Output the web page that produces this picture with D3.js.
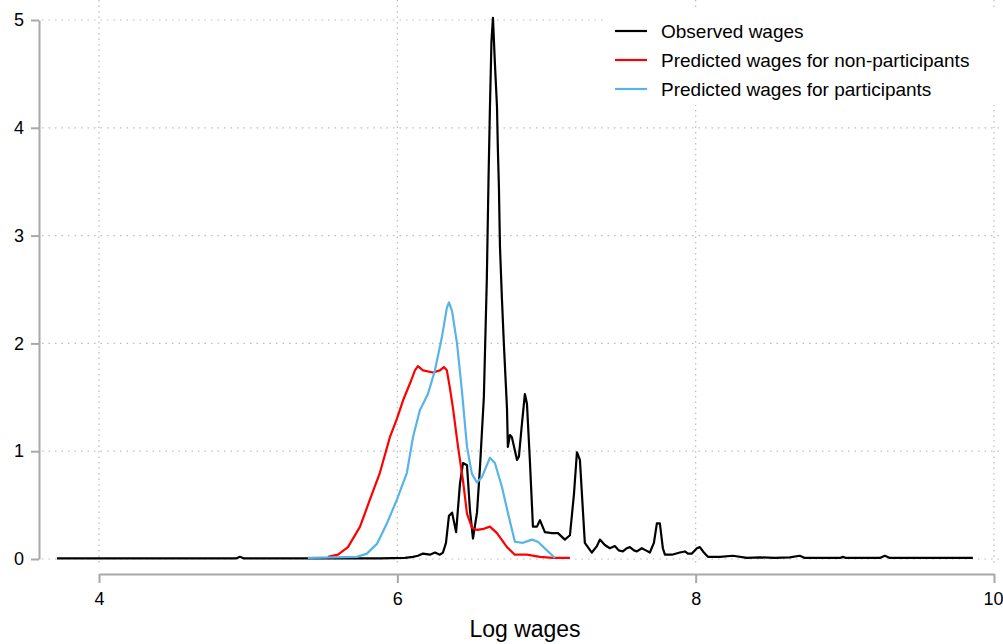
<!DOCTYPE html>
<html lang="en">
<head>
    <meta charset="UTF-8">
    <title>Log wage densities</title>
    <script src="https://d3js.org/d3.v7.min.js"></script>
    <style>
        body { margin: 0; background: #fff; }
        svg { font-family: "Liberation Sans", Arial, sans-serif; }
    </style>
</head>
<body>
    <script>
        const width = 1003;
        const height = 644;

        // kernel density estimates: [log wage, density]
        const observed = [
            [3.718, 0.005], [4.918, 0.005], [4.945, 0.02], [4.972, 0.005], [5.883, 0.005],
            [6.051, 0.01], [6.105, 0.02], [6.138, 0.03], [6.172, 0.05], [6.218, 0.04],
            [6.252, 0.06], [6.285, 0.04], [6.306, 0.06], [6.326, 0.15], [6.346, 0.40],
            [6.367, 0.43], [6.394, 0.25], [6.42, 0.70], [6.44, 0.89], [6.467, 0.87],
            [6.487, 0.45], [6.507, 0.19], [6.534, 0.43], [6.554, 0.85], [6.58, 1.5],
            [6.60, 2.6], [6.611, 3.5], [6.621, 4.2], [6.631, 4.8], [6.641, 5.02],
            [6.654, 4.6], [6.668, 4.2], [6.674, 3.8], [6.681, 3.45], [6.688, 2.9],
            [6.701, 2.42], [6.714, 2.0], [6.735, 1.4], [6.741, 1.04], [6.755, 1.15],
            [6.768, 1.13], [6.802, 0.92], [6.815, 0.95], [6.835, 1.25], [6.855, 1.53],
            [6.869, 1.44], [6.889, 0.9], [6.909, 0.30], [6.936, 0.30], [6.956, 0.36],
            [6.989, 0.25], [7.036, 0.24], [7.077, 0.24], [7.123, 0.18], [7.157, 0.22],
            [7.184, 0.6], [7.204, 0.99], [7.224, 0.92], [7.244, 0.45], [7.257, 0.15],
            [7.304, 0.06], [7.338, 0.12], [7.358, 0.18], [7.391, 0.13], [7.425, 0.10],
            [7.458, 0.12], [7.485, 0.08], [7.512, 0.07], [7.539, 0.10], [7.559, 0.11],
            [7.586, 0.08], [7.606, 0.07], [7.639, 0.10], [7.666, 0.08], [7.693, 0.06],
            [7.72, 0.15], [7.74, 0.33], [7.76, 0.33], [7.78, 0.10], [7.794, 0.04],
            [7.841, 0.04], [7.894, 0.06], [7.928, 0.07], [7.948, 0.05], [7.975, 0.05],
            [8.008, 0.10], [8.028, 0.11], [8.055, 0.06], [8.082, 0.02], [8.163, 0.02],
            [8.25, 0.03], [8.343, 0.01], [8.43, 0.015], [8.531, 0.01], [8.631, 0.015],
            [8.698, 0.03], [8.732, 0.01], [8.967, 0.01], [8.987, 0.02], [9.007, 0.01],
            [9.235, 0.01], [9.268, 0.03], [9.302, 0.01], [9.858, 0.01]
        ];

        const nonParticipants = [
            [5.535, 0.02], [5.602, 0.04], [5.669, 0.11], [5.75, 0.30], [5.816, 0.55],
            [5.883, 0.80], [5.95, 1.13], [5.997, 1.30], [6.038, 1.47], [6.085, 1.63],
            [6.118, 1.75], [6.138, 1.79], [6.172, 1.75], [6.239, 1.73], [6.285, 1.75],
            [6.312, 1.78], [6.332, 1.75], [6.352, 1.59], [6.373, 1.40], [6.407, 1.04],
            [6.44, 0.73], [6.467, 0.42], [6.50, 0.29], [6.534, 0.27], [6.58, 0.28],
            [6.621, 0.30], [6.668, 0.24], [6.735, 0.11], [6.788, 0.04], [6.869, 0.04],
            [6.956, 0.02], [7.043, 0.01], [7.157, 0.01]
        ];

        const participants = [
            [5.40, 0.01], [5.729, 0.02], [5.796, 0.05], [5.863, 0.14], [5.93, 0.33],
            [5.997, 0.55], [6.064, 0.80], [6.105, 1.13], [6.151, 1.38], [6.205, 1.53],
            [6.252, 1.75], [6.299, 2.06], [6.332, 2.33], [6.346, 2.38], [6.367, 2.30],
            [6.40, 2.00], [6.433, 1.56], [6.467, 1.04], [6.50, 0.79], [6.534, 0.71],
            [6.567, 0.76], [6.621, 0.94], [6.654, 0.89], [6.701, 0.67], [6.741, 0.43],
            [6.788, 0.16], [6.842, 0.15], [6.902, 0.18], [6.942, 0.16], [7.003, 0.08],
            [7.056, 0.01]
        ];

        const xTicks = [4, 6, 8, 10];
        const yTicks = [0, 1, 2, 3, 4, 5];
        const legendLabels = ["Observed wages", "Predicted wages for non-participants", "Predicted wages for participants"];
        const colors = ["#000000", "#ff0000", "#56b4e9"];

        const x = d3.scaleLinear().domain([4, 10]).range([99, 994]);
        const y = d3.scaleLinear().domain([0, 5]).range([559, 20]);

        const svg = d3.select("body").append("svg")
            .attr("width", width)
            .attr("height", height);

        // dotted grid
        svg.append("g")
            .selectAll("line")
            .data(yTicks)
            .join("line")
            .attr("x1", 42).attr("x2", 1000)
            .attr("y1", d => y(d)).attr("y2", d => y(d))
            .attr("stroke", "#bdbdbd")
            .attr("stroke-width", 1.2)
            .attr("stroke-dasharray", "1.5,5");

        svg.append("g")
            .selectAll("line")
            .data(xTicks)
            .join("line")
            .attr("x1", d => x(d)).attr("x2", d => x(d))
            .attr("y1", 0).attr("y2", 565)
            .attr("stroke", "#bdbdbd")
            .attr("stroke-width", 1.2)
            .attr("stroke-dasharray", "1.5,4");

        // axes
        const yAxis = svg.append("g")
            .attr("transform", "translate(39,0)")
            .call(d3.axisLeft(y).tickValues(yTicks).tickFormat(d3.format("d"))
                .tickSize(8).tickPadding(7).tickSizeOuter(0));

        const xAxis = svg.append("g")
            .attr("transform", "translate(0,574)")
            .call(d3.axisBottom(x).tickValues(xTicks).tickFormat(d3.format("d"))
                .tickSize(9).tickPadding(9).tickSizeOuter(0));

        [yAxis, xAxis].forEach(ax => {
            ax.select(".domain").attr("stroke", "#a8a8a8").attr("stroke-width", 2);
            ax.selectAll(".tick line").attr("stroke", "#a8a8a8").attr("stroke-width", 2);
            ax.selectAll(".tick text")
                .attr("fill", "#000")
                .style("font-size", "18px")
                .style("font-family", "\"Liberation Sans\", Arial, sans-serif");
        });

        // the last x label sits against the right edge
        xAxis.selectAll(".tick text")
            .filter(d => d === 10)
            .attr("text-anchor", "end")
            .attr("x", 9);

        svg.append("text")
            .attr("x", 525)
            .attr("y", 637)
            .attr("text-anchor", "middle")
            .style("font-size", "23px")
            .text("Log wages");

        // density lines
        const line = d3.line()
            .x(d => x(d[0]))
            .y(d => y(d[1]));

        [observed, nonParticipants, participants].forEach((series, i) => {
            svg.append("path")
                .datum(series)
                .attr("fill", "none")
                .attr("stroke", colors[i])
                .attr("stroke-width", 2.2)
                .attr("stroke-linejoin", "round")
                .attr("d", line);
        });

        // legend
        const legend = svg.append("g");
        legend.append("rect")
            .attr("x", 607).attr("y", 8)
            .attr("width", 396).attr("height", 97)
            .attr("fill", "#fff");

        const item = legend.selectAll(".item")
            .data(legendLabels)
            .join("g")
            .attr("class", "item")
            .attr("transform", (d, i) => `translate(0,${31 + i * 29})`);

        item.append("line")
            .attr("x1", 615).attr("x2", 647)
            .attr("stroke", (d, i) => colors[i])
            .attr("stroke-width", 2.2);

        item.append("text")
            .attr("x", 661)
            .attr("dy", "0.35em")
            .style("font-size", "19px")
            .text(d => d);
    </script>
</body>
</html>
